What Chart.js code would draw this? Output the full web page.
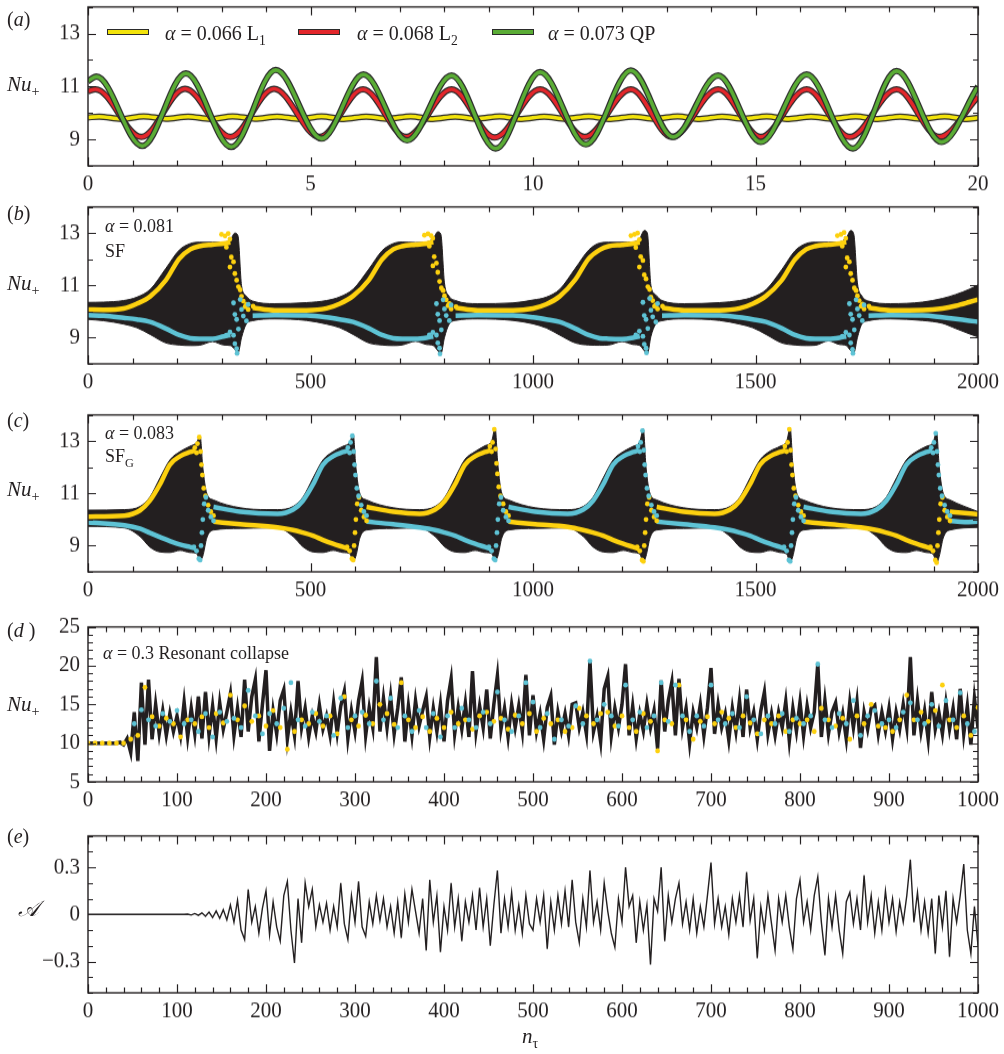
<!DOCTYPE html>
<html><head><meta charset="utf-8">
<script src="https://cdn.jsdelivr.net/npm/chart.js@4/dist/chart.umd.min.js"></script>
<style>
body{margin:0;width:1004px;height:1054px;background:#fff;position:relative;overflow:hidden;font-family:'Liberation Serif','Times New Roman',serif;color:#231f20}
canvas{position:absolute;left:0}
.t{position:absolute;white-space:nowrap;line-height:1}
.i{font-style:italic}
.sb{font-size:68%;position:relative;top:0.38em;font-style:normal}
.leg{position:absolute;width:40px;height:4px;border:1px solid #2b2b2b}
</style></head><body>
<canvas id="ca"></canvas><canvas id="cb"></canvas><canvas id="cc"></canvas><canvas id="cd"></canvas><canvas id="ce"></canvas>

<div class="t" style="left:7px;top:9px;font-size:20px">(<i>a</i>)</div>
<div class="t" style="left:7px;top:203px;font-size:20px">(<i>b</i>)</div>
<div class="t" style="left:7px;top:410px;font-size:20px">(<i>c</i>)</div>
<div class="t" style="left:7px;top:620px;font-size:20px">(<i>d</i> )</div>
<div class="t" style="left:7px;top:826px;font-size:20px">(<i>e</i>)</div>

<div class="t i" style="left:7px;top:74px;font-size:21px">Nu<span class="sb">+</span></div>
<div class="t i" style="left:7px;top:273px;font-size:21px">Nu<span class="sb">+</span></div>
<div class="t i" style="left:7px;top:479px;font-size:21px">Nu<span class="sb">+</span></div>
<div class="t i" style="left:7px;top:694px;font-size:21px">Nu<span class="sb">+</span></div>
<div class="t i" style="left:18px;top:898px;font-size:22px">𝒜</div>
<div class="t i" style="left:522px;top:1026px;font-size:21px">n<span class="sb">τ</span></div>

<div class="leg" style="left:107px;top:29px;background:#f2e30b"></div>
<div class="t" style="left:165px;top:23px;font-size:20px"><i>α</i> = 0.066 L<span class="sb">1</span></div>
<div class="leg" style="left:298px;top:29px;background:#e3262b"></div>
<div class="t" style="left:357px;top:23px;font-size:20px"><i>α</i> = 0.068 L<span class="sb">2</span></div>
<div class="leg" style="left:492px;top:29px;background:#5aac35"></div>
<div class="t" style="left:548px;top:23px;font-size:20px"><i>α</i> = 0.073 QP</div>

<div class="t" style="left:105px;top:217px;font-size:18px"><i>α</i> = 0.081</div>
<div class="t" style="left:105px;top:242px;font-size:18px">SF</div>
<div class="t" style="left:105px;top:424px;font-size:18px"><i>α</i> = 0.083</div>
<div class="t" style="left:105px;top:447px;font-size:18px">SF<span class="sb">G</span></div>
<div class="t" style="left:103px;top:644px;font-size:18px"><i>α</i> = 0.3 Resonant collapse</div>

<script>
// ---------------- Panel (a) ----------------
const aGreenX = [0, 0.19, 1.22, 2.2, 3.22, 4.22, 5.25, 6.19, 7.17, 8.17, 9.16, 10.16, 11.19, 12.2, 13.15, 14.16, 15.12, 16.15, 17.19, 18.17, 19.18, 20];
const aGreen  = [11.2, 11.37, 8.75, 11.49, 8.71, 11.62, 9.03, 11.45, 8.96, 11.41, 8.65, 11.54, 8.81, 11.6, 9.09, 11.41, 8.9, 11.45, 8.65, 11.58, 8.9, 11.0];
const aRedX = [0, 0.17, 1.2, 2.18, 3.2, 4.18, 5.2, 6.18, 7.15, 8.17, 9.14, 10.16, 11.16, 12.2, 13.12, 14.16, 15.12, 16.15, 17.12, 18.17, 19.13, 20];
const aRed  = [10.82, 10.89, 9.09, 10.91, 9.09, 10.91, 9.09, 10.89, 9.09, 10.89, 9.07, 10.89, 9.09, 10.89, 9.09, 10.89, 9.09, 10.89, 9.09, 10.89, 9.09, 10.6];
const aYelX = [0, 0.25, 0.75, 1.25, 1.75, 2.25, 2.75, 3.25, 3.75, 4.25, 4.75, 5.25, 5.75, 6.25, 6.75, 7.25, 7.75, 8.25, 8.75, 9.25, 9.75,
  10.25, 10.75, 11.25, 11.75, 12.25, 12.75, 13.25, 13.75, 14.25, 14.75, 15.25, 15.75, 16.25, 16.75, 17.25, 17.75, 18.25, 18.75, 19.25, 19.75, 20];
const aYel  = [9.83, 9.86, 9.77, 9.87, 9.78, 9.86, 9.77, 9.87, 9.78, 9.86, 9.77, 9.87, 9.77, 9.86, 9.78, 9.87, 9.77, 9.86, 9.78, 9.87, 9.77,
  9.86, 9.78, 9.87, 9.77, 9.86, 9.78, 9.87, 9.77, 9.86, 9.78, 9.87, 9.77, 9.86, 9.78, 9.87, 9.77, 9.86, 9.78, 9.87, 9.77, 9.82];

// ---------------- Panel (b) ----------------
const bEnvX = [0, 35, 80, 110, 140, 175, 205, 230, 250, 280, 305, 320, 330, 337, 345, 355, 370, 420,
  491, 536, 566, 596, 631, 661, 686, 706, 736, 761, 776, 786, 793, 801, 811, 826, 876,
  955, 1000, 1030, 1060, 1095, 1125, 1150, 1170, 1200, 1225, 1240, 1250, 1257, 1265, 1275, 1290, 1340,
  1419, 1464, 1494, 1524, 1559, 1589, 1614, 1634, 1664, 1689, 1704, 1714, 1721, 1729, 1739, 1754, 1804,
  1875, 1920, 1950, 1980, 2000];
const bUpper = [10.35, 10.36, 10.42, 10.55, 10.85, 11.65, 12.35, 12.6, 12.65, 12.65, 12.65, 12.75, 13.0, 12.9, 11.0, 10.6, 10.4, 10.3,
  10.34, 10.42, 10.56, 10.86, 11.62, 12.33, 12.6, 12.66, 12.64, 12.66, 12.8, 13.05, 12.95, 11.1, 10.6, 10.42, 10.3,
  10.33, 10.44, 10.55, 10.85, 11.65, 12.35, 12.62, 12.65, 12.65, 12.66, 12.8, 13.1, 13.0, 11.0, 10.65, 10.42, 10.3,
  10.34, 10.42, 10.55, 10.84, 11.6, 12.33, 12.6, 12.65, 12.65, 12.66, 12.82, 13.1, 12.95, 11.1, 10.6, 10.4, 10.3,
  10.36, 10.5, 10.65, 10.85, 11.02];
const bLower = [9.70, 9.65, 9.52, 9.38, 9.12, 8.8, 8.72, 8.7, 8.71, 8.85, 8.72, 8.7, 8.55, 8.4, 9.0, 9.5, 9.65, 9.72,
  9.66, 9.52, 9.38, 9.12, 8.8, 8.72, 8.7, 8.72, 8.86, 8.74, 8.7, 8.5, 8.38, 9.0, 9.5, 9.66, 9.72,
  9.66, 9.53, 9.37, 9.1, 8.8, 8.72, 8.71, 8.72, 8.85, 8.74, 8.7, 8.5, 8.38, 9.05, 9.5, 9.65, 9.72,
  9.66, 9.52, 9.38, 9.12, 8.8, 8.72, 8.7, 8.71, 8.88, 8.74, 8.7, 8.5, 8.42, 9.0, 9.52, 9.65, 9.72,
  9.66, 9.55, 9.35, 9.15, 9.03];
const bLineX = [0, 35, 80, 110, 140, 175, 205, 230, 250, 280, 305, 320, 335, 370, 420,
  491, 536, 566, 596, 631, 661, 686, 706, 736, 761, 776, 791, 826, 876,
  955, 1000, 1030, 1060, 1095, 1125, 1150, 1170, 1200, 1225, 1240, 1255, 1290, 1340,
  1419, 1464, 1494, 1524, 1559, 1589, 1614, 1634, 1664, 1689, 1704, 1719, 1754, 1804,
  1875, 1920, 1950, 1980, 2000];
const bYel = [10.08, 10.07, 10.12, 10.3, 10.58, 11.2, 12.02, 12.38, 12.5, 12.56, 12.6, 12.65, null, 10.15, 10.05,
  10.05, 10.12, 10.3, 10.6, 11.2, 12.0, 12.38, 12.5, 12.56, 12.6, 12.66, null, 10.15, 10.05,
  10.05, 10.12, 10.28, 10.58, 11.22, 12.02, 12.36, 12.5, 12.55, 12.6, 12.65, null, 10.15, 10.05,
  10.05, 10.12, 10.3, 10.6, 11.2, 12.0, 12.38, 12.5, 12.56, 12.6, 12.66, null, 10.15, 10.05,
  10.06, 10.12, 10.22, 10.36, 10.46];
const bCyan = [9.86, 9.84, 9.76, 9.7, 9.6, 9.35, 9.1, 8.98, 8.96, 8.96, 9.05, 9.1, null, 9.84, 9.86,
  9.85, 9.78, 9.7, 9.6, 9.36, 9.1, 8.98, 8.96, 8.96, 9.0, 9.05, null, 9.84, 9.86,
  9.85, 9.78, 9.7, 9.6, 9.35, 9.1, 8.98, 8.96, 8.95, 9.0, 9.06, null, 9.84, 9.86,
  9.85, 9.78, 9.7, 9.6, 9.36, 9.1, 8.98, 8.96, 8.96, 9.0, 9.05, null, 9.84, 9.86,
  9.85, 9.78, 9.72, 9.65, 9.61];
const bYelDotX = [300, 308, 315, 319, 311, 322, 327, 319, 330, 334, 338, 342, 345, 349, 356, 371, 360, 353,
  756, 764, 771, 775, 767, 778, 783, 775, 786, 790, 794, 798, 801, 805, 812, 827, 816, 809,
  1220, 1228, 1235, 1239, 1231, 1242, 1247, 1239, 1250, 1254, 1258, 1262, 1265, 1269, 1276, 1291, 1280, 1273,
  1684, 1692, 1699, 1703, 1695, 1706, 1711, 1703, 1714, 1718, 1722, 1726, 1729, 1733, 1740, 1755, 1744, 1737];
const bYelDotY = [12.95, 12.89, 12.98, 12.77, 12.46, 12.08, 11.9, 11.7, 11.45, 11.2, 10.95, 10.83, 10.58, 10.4, 10.27, 10.2, 10.08, 10.18,
  12.92, 12.97, 12.9, 12.8, 12.5, 12.1, 11.85, 11.75, 11.5, 11.15, 10.9, 10.8, 10.6, 10.45, 10.3, 10.18, 10.1, 10.22,
  12.9, 12.95, 13.0, 12.75, 12.45, 12.1, 11.95, 11.7, 11.4, 11.25, 10.95, 10.85, 10.55, 10.42, 10.25, 10.2, 10.1, 10.2,
  12.9, 12.95, 13.02, 12.8, 12.5, 12.05, 11.9, 11.7, 11.45, 11.2, 10.9, 10.8, 10.6, 10.42, 10.28, 10.2, 10.1, 10.2];
const bCyanDotX = [327, 330, 334, 338, 327, 330, 334, 335, 342, 345, 356, 319, 311, 360, 349,
  783, 786, 790, 794, 783, 786, 790, 791, 798, 801, 812, 775, 767, 816, 805,
  1247, 1250, 1254, 1258, 1247, 1250, 1254, 1255, 1262, 1265, 1276, 1239, 1231, 1280, 1269,
  1711, 1714, 1718, 1722, 1711, 1714, 1718, 1719, 1726, 1729, 1740, 1703, 1695, 1744, 1733];
const bCyanDotY = [10.33, 9.89, 9.7, 9.33, 9.09, 8.77, 8.58, 8.4, 10.46, 10.08, 9.64, 9.21, 9.09, 10.27, 9.83,
  10.3, 9.9, 9.65, 9.3, 9.1, 8.8, 8.6, 8.38, 10.45, 10.1, 9.65, 9.2, 9.1, 10.25, 9.85,
  10.35, 9.85, 9.7, 9.35, 9.05, 8.75, 8.6, 8.42, 10.5, 10.05, 9.6, 9.25, 9.1, 10.3, 9.8,
  10.3, 9.9, 9.7, 9.3, 9.1, 8.8, 8.55, 8.4, 10.45, 10.1, 9.65, 9.2, 9.05, 10.25, 9.85];

// ---------------- Panel (c) ----------------
const cEnvX = [0, 82,
  117, 139, 162, 184, 207, 229, 244, 252, 258, 267, 282, 342, 402,
  426, 461, 483, 506, 528, 551, 573, 588, 596, 602, 611, 626, 686,
  745, 780, 802, 825, 847, 870, 892, 907, 915, 921, 930, 945, 1005,
  1078, 1113, 1135, 1158, 1180, 1203, 1225, 1240, 1248, 1254, 1263, 1278, 1338,
  1408, 1443, 1465, 1488, 1510, 1533, 1555, 1570, 1578, 1584, 1593, 1608, 1668,
  1737, 1772, 1794, 1817, 1839, 1862, 1884, 1899, 1907, 1913, 1922, 1937, 2000];
const cUpper = [10.36, 10.38,
  10.5, 10.86, 11.6, 12.28, 12.6, 12.8, 12.95, 13.2, 12.0, 11.0, 10.75, 10.45, 10.38,
  10.38, 10.5, 10.86, 11.6, 12.28, 12.6, 12.8, 12.95, 13.27, 12.0, 11.0, 10.75, 10.45,
  10.38, 10.5, 10.86, 11.6, 12.3, 12.6, 12.82, 13.0, 13.5, 12.1, 11.0, 10.75, 10.45,
  10.38, 10.5, 10.86, 11.6, 12.28, 12.6, 12.8, 12.98, 13.46, 12.0, 11.0, 10.75, 10.45,
  10.38, 10.5, 10.86, 11.6, 12.28, 12.62, 12.8, 13.0, 13.5, 12.1, 11.0, 10.75, 10.45,
  10.38, 10.5, 10.86, 11.6, 12.28, 12.6, 12.8, 12.95, 13.34, 12.0, 11.0, 10.75, 10.3];
const cLower = [9.74, 9.68,
  9.35, 8.95, 8.76, 8.74, 8.82, 8.74, 8.7, 8.45, 8.6, 9.3, 9.6, 9.66, 9.68,
  9.68, 9.35, 8.96, 8.76, 8.74, 8.82, 8.74, 8.7, 8.42, 8.6, 9.3, 9.6, 9.66,
  9.68, 9.35, 8.95, 8.76, 8.74, 8.82, 8.74, 8.7, 8.45, 8.6, 9.3, 9.6, 9.66,
  9.68, 9.35, 8.95, 8.76, 8.74, 8.82, 8.74, 8.68, 8.37, 8.6, 9.3, 9.6, 9.66,
  9.68, 9.35, 8.95, 8.76, 8.74, 8.82, 8.74, 8.68, 8.37, 8.6, 9.3, 9.6, 9.66,
  9.68, 9.35, 8.95, 8.76, 8.74, 8.82, 8.74, 8.68, 8.33, 8.6, 9.3, 9.6, 9.7];
const cLineX = [0, 82, 117, 139, 162, 184, 207, 229, 242, 252,
  282, 342, 426, 461, 483, 506, 528, 551, 573, 586, 596,
  626, 686, 745, 780, 802, 825, 847, 870, 892, 905, 915,
  945, 1005, 1078, 1113, 1135, 1158, 1180, 1203, 1225, 1238, 1248,
  1278, 1338, 1408, 1443, 1465, 1488, 1510, 1533, 1555, 1568, 1578,
  1608, 1668, 1737, 1772, 1794, 1817, 1839, 1862, 1884, 1897, 1907,
  1937, 1970, 2000];
const cYel = [10.11, 10.15, 10.35, 10.72, 11.35, 12.1, 12.42, 12.58, 12.65, null,
  9.92, 9.82, 9.7, 9.6, 9.5, 9.38, 9.22, 9.07, 8.95, 8.88, null,
  10.48, 10.3, 10.22, 10.38, 10.72, 11.35, 12.1, 12.42, 12.58, 12.65, null,
  9.92, 9.82, 9.72, 9.6, 9.5, 9.38, 9.22, 9.07, 8.95, 8.88, null,
  10.48, 10.3, 10.22, 10.38, 10.72, 11.35, 12.1, 12.42, 12.58, 12.65, null,
  9.92, 9.82, 9.7, 9.6, 9.5, 9.38, 9.22, 9.07, 8.95, 8.88, null,
  10.3, 10.25, 10.2];
const cCyan = [9.89, 9.78, 9.65, 9.49, 9.33, 9.18, 9.04, 8.95, 8.9, null,
  10.48, 10.3, 10.22, 10.38, 10.72, 11.35, 12.1, 12.42, 12.58, 12.65, null,
  9.92, 9.82, 9.7, 9.6, 9.5, 9.38, 9.22, 9.07, 8.95, 8.88, null,
  10.48, 10.3, 10.22, 10.38, 10.72, 11.35, 12.1, 12.42, 12.58, 12.65, null,
  9.92, 9.82, 9.7, 9.6, 9.5, 9.38, 9.22, 9.07, 8.95, 8.88, null,
  10.48, 10.3, 10.22, 10.38, 10.72, 11.35, 12.1, 12.42, 12.58, 12.65, null,
  9.95, 9.9, 9.92];
const cYelDotX = [240, 246, 250, 244, 253, 255, 257, 260, 264, 270, 276, 282,
  582, 588, 593, 596, 598, 600, 602, 605, 609, 614, 620, 626,
  903, 909, 913, 907, 916, 918, 920, 923, 927, 933, 939, 945,
  1234, 1240, 1245, 1248, 1250, 1252, 1254, 1257, 1261, 1266, 1272, 1278,
  1566, 1572, 1576, 1570, 1579, 1581, 1583, 1586, 1590, 1596, 1602, 1608,
  1893, 1899, 1904, 1907, 1909, 1911, 1913, 1916, 1920, 1925, 1931, 1937];
const cYelDotY = [12.75, 12.9, 13.15, 12.55, 12.6, 12.1, 11.7, 11.2, 10.9, 10.55, 10.3, 10.15,
  8.95, 8.8, 8.5, 8.45, 9.0, 9.5, 10.0, 10.6, 10.85, 10.35, 10.1, 9.95,
  12.8, 12.95, 13.45, 12.6, 12.7, 12.15, 11.75, 11.25, 10.9, 10.6, 10.3, 10.15,
  8.95, 8.8, 8.45, 8.4, 9.0, 9.5, 10.0, 10.6, 10.85, 10.35, 10.1, 9.95,
  12.8, 12.95, 13.45, 12.6, 12.65, 12.1, 11.7, 11.2, 10.9, 10.55, 10.3, 10.15,
  8.95, 8.8, 8.45, 8.35, 9.0, 9.5, 10.0, 10.6, 10.85, 10.35, 10.1, 9.95];
const cCyanDotX = [238, 244, 249, 252, 254, 256, 258, 261, 265, 270, 276, 282,
  584, 590, 594, 588, 597, 599, 601, 604, 608, 614, 620, 626,
  901, 907, 912, 915, 917, 919, 921, 924, 928, 933, 939, 945,
  1236, 1242, 1246, 1240, 1249, 1251, 1253, 1256, 1260, 1266, 1272, 1278,
  1564, 1570, 1575, 1578, 1580, 1582, 1584, 1587, 1591, 1596, 1602, 1608,
  1895, 1901, 1905, 1899, 1908, 1910, 1912, 1915, 1919, 1925, 1931, 1937];
const cCyanDotY = [8.95, 8.8, 8.5, 8.45, 9.0, 9.5, 10.0, 10.6, 10.85, 10.35, 10.1, 9.95,
  12.75, 12.95, 13.2, 12.55, 12.6, 12.1, 11.7, 11.2, 10.9, 10.55, 10.3, 10.15,
  8.95, 8.8, 8.5, 8.45, 9.0, 9.5, 10.0, 10.6, 10.85, 10.35, 10.1, 9.95,
  12.8, 12.95, 13.4, 12.6, 12.65, 12.1, 11.7, 11.2, 10.9, 10.55, 10.3, 10.15,
  8.95, 8.8, 8.45, 8.4, 9.0, 9.5, 10.0, 10.6, 10.85, 10.35, 10.1, 9.95,
  12.75, 12.95, 13.3, 12.55, 12.6, 12.1, 11.7, 11.2, 10.9, 10.55, 10.3, 10.15];

// ---------------- Panels (d), (e): sample times ----------------
const nTau = [0,4,8,12,16,20,24,28,32,36,40,44,48,52,56,60,64,68,72,76,80,84,88,92,96,
  100,104,108,112,116,120,124,128,132,136,140,144,148,152,156,160,164,168,172,176,180,184,188,192,196,
  200,204,208,212,216,220,224,228,232,236,240,244,248,252,256,260,264,268,272,276,280,284,288,292,296,
  300,304,308,312,316,320,324,328,332,336,340,344,348,352,356,360,364,368,372,376,380,384,388,392,396,
  400,404,408,412,416,420,424,428,432,436,440,444,448,452,456,460,464,468,472,476,480,484,488,492,496,
  500,504,508,512,516,520,524,528,532,536,540,544,548,552,556,560,564,568,572,576,580,584,588,592,596,
  600,604,608,612,616,620,624,628,632,636,640,644,648,652,656,660,664,668,672,676,680,684,688,692,696,
  700,704,708,712,716,720,724,728,732,736,740,744,748,752,756,760,764,768,772,776,780,784,788,792,796,
  800,804,808,812,816,820,824,828,832,836,840,844,848,852,856,860,864,868,872,876,880,884,888,892,896,
  900,904,908,912,916,920,924,928,932,936,940,944,948,952,956,960,964,968,972,976,980,984,988,992,996,1000];

const dBlack = [10,10,10,10,10,10,10,10,10,10.1,9.8,10.6,8.8,14.0,7.7,17.8,9.8,18.2,10.5,15.0,11.2,14.2,11.0,13.8,11.5,
  13.5,11.0,15.3,10.8,14.5,11.2,16.0,10.6,16.6,11.0,14.8,10.6,15.2,11.8,14.0,16.4,11.0,14.5,10.8,18.2,11.5,16.0,18.2,10.2,15.0,
  19.4,9.0,14.2,11.2,15.5,16.9,10.5,14.0,11.0,18.0,12.0,14.5,10.8,13.5,11.5,14.9,11.8,13.5,11.0,15.2,11.3,14.8,16.7,10.6,14.2,
  11.5,15.5,18.0,11.0,14.6,12.0,21.1,11.5,15.8,12.0,16.0,11.2,14.5,18.5,10.2,14.8,11.0,15.5,12.2,14.2,16.0,10.8,14.5,11.5,15.0,
  10.2,15.5,18.3,11.2,14.6,11.8,15.2,10.8,19.3,11.5,14.8,12.0,16.9,10.6,15.0,18.7,11.8,14.5,10.8,15.0,12.0,14.8,11.5,18.8,11.0,
  16.2,11.5,13.8,10.5,14.6,16.1,9.8,14.0,11.6,13.8,11.0,15.0,15.2,12.0,14.0,11.2,20.6,11.5,13.5,10.2,17.0,18.6,11.0,14.5,12.0,
  15.0,20.2,11.0,14.8,10.6,13.8,11.6,15.0,12.0,14.2,9.3,18.1,11.5,15.5,17.9,11.0,18.3,12.0,14.5,10.0,14.0,12.0,15.0,11.0,14.6,
  19.7,11.2,15.0,12.0,13.8,10.4,14.5,11.5,15.5,10.8,16.9,12.0,14.0,10.5,14.2,16.6,11.2,13.8,11.0,14.0,12.0,15.4,10.3,14.5,11.5,
  15.3,11.0,14.8,12.0,14.0,20.3,10.8,15.5,11.2,14.0,15.2,11.5,13.8,10.5,15.3,12.0,15.4,9.4,14.0,11.8,14.5,14.9,11.2,14.0,11.6,
  14.5,10.6,14.0,11.8,15.0,12.0,21.1,11.0,15.5,11.5,14.2,10.5,16.6,11.8,14.0,11.2,15.2,11.8,14.5,10.5,17.0,11.2,14.8,9.8,15.8,12.0];
// yellow dots at nTau[0], nTau[2], ... ; cyan dots at nTau[1], nTau[3], ...
const dYel = [10,10,10,10,10,10,10.5,11.0,17.2,13.4,12.2,13.2,12.5,
  10.8,13.0,12.5,13.4,12.0,13.8,12.6,16.2,13.0,14.8,12.8,13.5,
  12.2,14.2,12.0,9.2,11.5,13.0,12.5,13.8,12.2,13.5,11.2,16.0,
  13.0,12.2,13.6,12.5,15.0,13.8,12.4,17.8,13.0,12.0,13.4,11.5,
  13.2,12.0,14.0,12.5,13.0,11.8,13.5,14.0,12.8,13.2,11.8,13.6,
  12.5,13.8,11.5,13.2,12.5,13.0,11.5,12.0,14.5,13.5,12.5,13.8,
  14.0,12.2,13.5,12.0,11.5,13.8,12.8,9.0,13.0,12.5,17.5,13.0,
  10.5,12.8,13.4,12.5,14.0,13.2,12.0,13.5,12.6,11.2,13.0,12.5,
  13.5,11.5,13.0,12.5,13.0,11.5,14.5,13.0,12.2,13.2,10.5,13.5,
  12.5,15.0,12.2,12.0,11.5,13.0,16.2,13.0,14.0,12.8,14.2,17.5,
  13.0,12.0,13.5,11.0,14.6];
const dCyan = [null,null,null,null,null,null,12.5,14.3,13.0,12.2,13.8,12.8,
  14.2,12.5,13.0,11.5,13.8,10.8,14.0,12.8,13.2,12.0,16.8,13.5,
  11.2,13.8,12.5,14.5,17.8,13.0,12.2,14.0,12.8,13.5,11.0,15.8,
  12.0,13.5,14.0,12.5,18.0,13.0,15.8,12.0,13.5,11.5,14.2,12.0,
  13.8,10.8,13.5,12.0,14.5,13.0,12.0,14.0,12.5,16.6,13.0,11.5,
  13.5,17.8,15.3,12.0,13.8,10.5,13.0,12.2,14.8,12.5,20.6,13.0,
  15.0,13.5,12.2,17.5,13.0,14.0,12.0,13.5,17.8,12.8,17.5,13.5,
  11.5,13.5,12.2,17.5,13.0,12.5,13.8,12.0,16.0,13.0,11.2,13.5,
  12.5,13.8,11.5,13.2,12.5,13.5,20.2,13.0,12.0,13.8,12.5,15.5,
  11.0,13.5,14.2,12.5,13.0,12.0,14.0,15.2,13.0,12.5,15.0,12.2,
  15.5,13.0,16.5,12.5,11.5];

const eAmp = [0,0,0,0,0,0,0,0,0,0,0,0,0,0,0,0,0,0,0,0,0,0,0,0,0,
  0,0,0,0.002,-0.004,0.006,-0.006,0.01,-0.012,0.015,-0.02,0.022,-0.025,0.03,-0.035,0.06,-0.05,0.09,-0.1,-0.16,0.16,-0.05,0.05,-0.12,0.04,
  0.15,-0.13,0.08,-0.08,-0.17,0.12,0.21,-0.1,-0.31,0.1,-0.18,0.2,0.05,0.16,-0.08,0.06,-0.05,0.07,-0.1,0.05,-0.08,0.2,-0.06,-0.16,0.12,
  -0.05,0.21,-0.08,-0.14,0.08,-0.06,0.12,-0.04,0.1,-0.08,0.05,-0.12,0.08,-0.15,0.13,-0.05,0.16,0.02,-0.12,0.1,-0.23,0.22,-0.05,0.12,-0.24,
  0.05,-0.1,0.2,-0.08,0.1,-0.17,0.08,-0.05,0.12,-0.1,0.17,-0.08,0.1,-0.2,0.06,0.28,-0.12,0.1,-0.08,0.14,-0.1,0.06,-0.12,0.12,-0.06,
  -0.1,0.1,-0.05,0.12,-0.22,0.08,-0.1,0.12,-0.06,0.15,-0.08,0.22,-0.05,-0.18,0.1,-0.08,0.28,-0.05,0.08,-0.1,0.2,0.02,-0.12,-0.21,0.1,
  -0.05,0.3,0.05,0.12,-0.18,0.08,-0.1,0.06,-0.32,0.1,0.02,0.3,-0.17,0.12,-0.05,0.1,0.2,-0.06,0.08,-0.1,0.1,-0.12,0.05,-0.08,0.12,
  0.33,-0.06,0.1,-0.08,0.05,-0.13,0.1,-0.05,0.12,-0.08,0.27,-0.04,0.1,-0.28,0.05,-0.1,0.12,-0.06,-0.23,0.1,-0.05,0.12,-0.08,-0.22,0.1,
  0.22,-0.05,0.08,-0.1,0.12,0.24,-0.05,-0.26,0.1,-0.08,0.12,-0.1,-0.25,0.08,0.14,-0.06,0.1,-0.1,0.25,-0.05,0.12,-0.12,0.08,-0.1,0.15,
  -0.05,0.1,-0.11,0.08,-0.05,0.12,0.35,-0.05,0.14,-0.1,0.08,-0.12,0.1,-0.25,0.12,-0.08,0.15,-0.27,0.1,-0.05,0.12,0.32,-0.1,-0.25,0.05,-0.2];

// ---------------- helpers ----------------
const INK = '#231f20', YEL = '#fdd10f', CYAN = '#5ec3d5';
const pts = (xs, ys) => xs.map((x, i) => ({x: x, y: ys[i] === undefined ? null : ys[i]}));
const FONT = {family: "'Liberation Serif','Times New Roman',serif", size: 21};

const framePlugin = {
  id: 'frame',
  afterDatasetsDraw(chart) {
    const {ctx, chartArea: a, scales: {x, y}} = chart;
    ctx.save();
    ctx.strokeStyle = INK; ctx.lineWidth = 1.2;
    ctx.beginPath();
    x.ticks.forEach(t => {
      const p = Math.round(x.getPixelForValue(t.value)) + 0.5;
      const L = (t.label !== '' && t.label != null) ? 8 : 5;
      ctx.moveTo(p, a.bottom); ctx.lineTo(p, a.bottom - L);
      ctx.moveTo(p, a.top); ctx.lineTo(p, a.top + L);
    });
    y.ticks.forEach(t => {
      const p = Math.round(y.getPixelForValue(t.value)) + 0.5;
      const L = (t.label !== '' && t.label != null) ? 8 : 5;
      ctx.moveTo(a.left, p); ctx.lineTo(a.left + L, p);
      ctx.moveTo(a.right, p); ctx.lineTo(a.right - L, p);
    });
    ctx.stroke();
    ctx.lineWidth = 1.4;
    ctx.strokeRect(a.left, a.top, a.right - a.left, a.bottom - a.top);
    ctx.restore();
  }
};

function makeChart(id, top, bottom, xs, ys, datasets) {
  const padTop = 8, xH = 34;
  const cv = document.getElementById(id);
  const h = bottom - top + padTop + xH;
  cv.width = 1004; cv.height = h;
  cv.style.width = '1004px'; cv.style.height = h + 'px'; cv.style.top = (top - padTop) + 'px';
  const ch = new Chart(cv, {
    type: 'line',
    data: {datasets: datasets},
    options: {
      responsive: false, animation: false, devicePixelRatio: 1,
      layout: {autoPadding: false, padding: {top: padTop, right: 26, left: 0, bottom: 0}},
      plugins: {legend: {display: false}, tooltip: {enabled: false}},
      elements: {point: {radius: 0}},
      scales: {
        x: {type: 'linear', min: xs.min, max: xs.max,
            grid: {display: false, drawTicks: false}, border: {display: false},
            ticks: {stepSize: xs.step, autoSkip: false, maxRotation: 0, minRotation: 0, padding: 5,
                    font: FONT, color: INK, callback: xs.label},
            afterFit(s) { s.height = xH; }},
        y: {type: 'linear', min: ys.min, max: ys.max,
            grid: {display: false, drawTicks: false}, border: {display: false},
            ticks: {stepSize: ys.step, autoSkip: false, padding: 8, font: FONT, color: INK, callback: ys.label},
            afterFit(s) { s.width = 88; }}
      }
    },
    plugins: [framePlugin]
  });
  // make the drawn plot box land exactly on the reference frame
  const want = bottom - top;
  const got = ch.chartArea.bottom - ch.chartArea.top;
  if (Math.abs(want - got) > 0.5) {
    const nh = Math.round(h + (want - got));
    cv.width = 1004; cv.height = nh;
    ch.resize(1004, nh);
    cv.style.height = nh + 'px';
  }
  cv.style.top = (top + 1 - ch.chartArea.top) + 'px';
  return ch;
}
const lab = (every) => (v) => (Math.abs(v / every - Math.round(v / every)) < 1e-6 ? String(v) : '');
const labList = (list) => (v) => (list.includes(v) ? String(v) : '');

// ---------------- build charts ----------------
function waveSets(xs, ys, col, ord) {
  const base = {cubicInterpolationMode: 'monotone', pointRadius: 0, fill: false, clip: 0};
  return [
    Object.assign({data: pts(xs, ys), borderColor: col, borderWidth: 3.6, order: ord}, base),
    Object.assign({data: pts(xs, ys), borderColor: '#2b2b2b', borderWidth: 6, order: ord + 1}, base)
  ];
}
makeChart('ca', 5, 167, {min: 0, max: 20, step: 1, label: lab(5)}, {min: 8, max: 14, step: 1, label: labList([9, 11, 13])},
  [].concat(waveSets(aGreenX, aGreen, '#5aac35', 1), waveSets(aRedX, aRed, '#e3262b', 3), waveSets(aYelX, aYel, '#f2e30b', 5)));

function sfSets(envX, up, lo, lineX, yl, cy, ydx, ydy, cdx, cdy) {
  return [
    {data: pts(envX, up), borderColor: INK, borderWidth: 1, backgroundColor: INK, fill: false, order: 10, cubicInterpolationMode: 'monotone', clip: 0},
    {data: pts(envX, lo), borderColor: INK, borderWidth: 1, backgroundColor: INK, fill: '-1', order: 10, cubicInterpolationMode: 'monotone', clip: 0},
    {data: pts(lineX, yl), borderColor: YEL, borderWidth: 4.5, fill: false, order: 5, cubicInterpolationMode: 'monotone', clip: 0},
    {data: pts(lineX, cy), borderColor: CYAN, borderWidth: 4.5, fill: false, order: 6, cubicInterpolationMode: 'monotone', clip: 0},
    {data: pts(ydx, ydy), showLine: false, pointRadius: 2.4, pointBorderWidth: 0, pointBackgroundColor: YEL, order: 2},
    {data: pts(cdx, cdy), showLine: false, pointRadius: 2.4, pointBorderWidth: 0, pointBackgroundColor: CYAN, order: 1}
  ];
}
makeChart('cb', 205, 365, {min: 0, max: 2000, step: 100, label: lab(500)}, {min: 8, max: 14, step: 1, label: labList([9, 11, 13])},
  sfSets(bEnvX, bUpper, bLower, bLineX, bYel, bCyan, bYelDotX, bYelDotY, bCyanDotX, bCyanDotY));
makeChart('cc', 413, 573, {min: 0, max: 2000, step: 100, label: lab(500)}, {min: 8, max: 14, step: 1, label: labList([9, 11, 13])},
  sfSets(cEnvX, cUpper, cLower, cLineX, cYel, cCyan, cYelDotX, cYelDotY, cCyanDotX, cCyanDotY));

makeChart('cd', 625, 783, {min: 0, max: 1000, step: 20, label: lab(100)}, {min: 5, max: 25, step: 1, label: lab(5)}, [
  {data: pts(nTau, dBlack), borderColor: INK, borderWidth: 3.5, fill: false, order: 10, pointRadius: 0, clip: 0},
  {data: dYel.map((v, i) => ({x: nTau[2 * i], y: v})), showLine: false, pointRadius: 2.4, pointBorderWidth: 0, pointBackgroundColor: YEL, order: 2},
  {data: dCyan.map((v, i) => ({x: nTau[2 * i + 1], y: v})), showLine: false, pointRadius: 2.4, pointBorderWidth: 0, pointBackgroundColor: CYAN, order: 1}
]);

makeChart('ce', 834, 994, {min: 0, max: 1000, step: 20, label: lab(100)}, {min: -0.5, max: 0.5, step: 0.1, label: (v) => {
    const r = Math.round(v * 10) / 10;
    return r === 0.3 ? '0.3' : r === -0.3 ? '\u22120.3' : r === 0 ? '0' : '';
  }}, [
  {data: pts(nTau, eAmp), borderColor: INK, borderWidth: 1.4, fill: false, order: 10, pointRadius: 0, clip: 0}
]);
</script>
</body></html>
